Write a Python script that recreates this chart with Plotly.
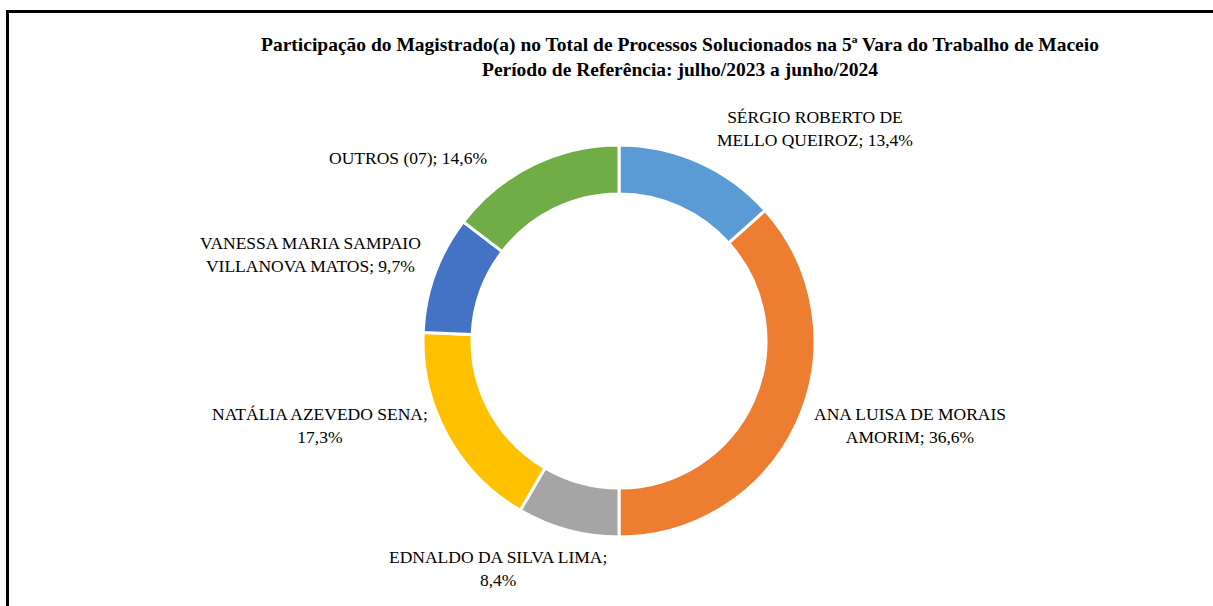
import plotly.graph_objects as go

W, H = 1213, 606

magistrados = [
    "SÉRGIO ROBERTO DE<br>MELLO QUEIROZ",
    "ANA LUISA DE MORAIS<br>AMORIM",
    "EDNALDO DA SILVA LIMA;<br>",
    "NATÁLIA AZEVEDO SENA;<br>",
    "VANESSA MARIA SAMPAIO<br>VILLANOVA MATOS",
    "OUTROS (07)",
]
percentuais = [13.4, 36.6, 8.4, 17.3, 9.7, 14.6]
cores = ["#5B9BD5", "#ED7D31", "#A5A5A5", "#FFC000", "#4472C4", "#70AD47"]

# label anchor positions (pixels) - layout only
label_pos = [(815, 129), (910, 425), (498, 568), (320, 425), (310, 254), (408, 158)]

cx, cy, r = 619, 341, 196

fig = go.Figure()
fig.add_trace(go.Pie(
    labels=[m.replace("<br>", " ") for m in magistrados],
    values=percentuais,
    marker=dict(colors=cores, line=dict(color="white", width=3)),
    hole=0.75,
    sort=False,
    direction="clockwise",
    rotation=0,
    textinfo="none",
    showlegend=False,
    domain=dict(x=[(cx - r) / W, (cx + r) / W], y=[(H - cy - r) / H, (H - cy + r) / H]),
))

def fmt(v):
    return f"{v:.1f}".replace(".", ",") + "%"

for nome, v, (px, py) in zip(magistrados, percentuais, label_pos):
    if nome.endswith("<br>"):
        txt = nome + fmt(v)
    else:
        txt = nome + "; " + fmt(v)
    fig.add_annotation(
        x=px / W, y=1 - py / H, xref="paper", yref="paper",
        text=txt, showarrow=False, align="center",
        xanchor="center", yanchor="middle",
        font=dict(family="Liberation Serif", size=17.5, color="#000"),
    )

fig.add_annotation(
    x=680 / W, y=1 - 57 / H, xref="paper", yref="paper",
    text="<b>Participação do Magistrado(a) no Total de Processos Solucionados na 5ª Vara do Trabalho de Maceio</b><br><b>Período de Referência: julho/2023 a junho/2024</b>",
    showarrow=False, align="center", xanchor="center", yanchor="middle",
    font=dict(family="Liberation Serif", size=19.5, color="#000"),
)

fig.add_shape(type="line", xref="paper", yref="paper",
              x0=7.5 / W, x1=7.5 / W, y0=0, y1=1 - 11 / H,
              line=dict(color="black", width=3))
fig.add_shape(type="line", xref="paper", yref="paper",
              x0=6 / W, x1=1, y0=1 - 11.5 / H, y1=1 - 11.5 / H,
              line=dict(color="black", width=3))

fig.update_layout(
    width=W, height=H,
    margin=dict(l=0, r=0, t=0, b=0),
    paper_bgcolor="white", plot_bgcolor="white",
)

fig.write_html(
    "out.html",
    config={"displayModeBar": False},
    post_script="document.body.style.margin='0';document.body.style.overflow='hidden';",
)
